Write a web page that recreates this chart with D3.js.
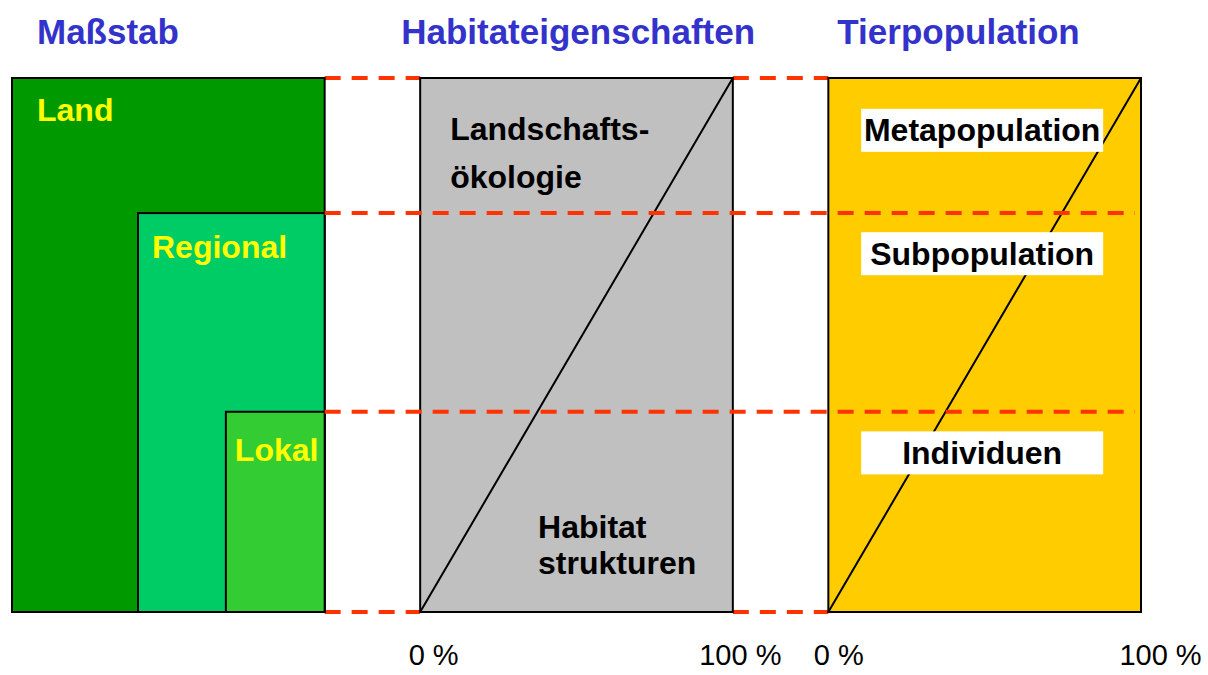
<!DOCTYPE html>
<html>
<head>
<meta charset="utf-8">
<script src="https://cdn.jsdelivr.net/npm/d3@7"></script>
<style>
  body { margin: 0; background: #fff; }
  svg { display: block; font-family: "Liberation Sans", Arial, sans-serif; }
</style>
</head>
<body>
<svg></svg>
<script>
// data
var columns = ['Maßstab', 'Habitateigenschaften', 'Tierpopulation'];
var scaleLevels = ['Land', 'Regional', 'Lokal'];
var levelHeight = [100, 74.7, 37.5];      // share of full height
var levelStart = [0, 40.3, 68.4];         // where each box starts inside the panel, %
var levelColors = ['#009900', '#00CC66', '#33CC33'];
var habitatLabels = [['Landschafts-', 'ökologie'], ['Habitat', 'strukturen']];
var populationLabels = ['Metapopulation', 'Subpopulation', 'Individuen'];
var percentTicks = [0, 100];

var width = 1208;
var height = 675;

var svg = d3.select('svg')
    .attr('width', width)
    .attr('height', height);

var Xscale = d3.scaleBand().domain(columns).range([12, 1141]).paddingInner(0.234);
var bw = Xscale.bandwidth();
var Pscale = d3.scaleLinear().domain([0, 100]).range([0, bw]);
var Yscale = d3.scaleLinear().domain([0, 100]).range([612, 78]);

var dashStyle = function (sel) {
    sel.attr('stroke', '#FF3300')
       .attr('stroke-width', 4)
       .attr('stroke-dasharray', '16,11');
};

// titles
var titleDx = [25, -19, 9];
svg.selectAll('text.title')
    .data(columns)
    .enter()
    .append('text')
    .classed('title', true)
    .attr('x', (d, i) => Xscale(d) + titleDx[i])
    .attr('y', 44)
    .attr('fill', '#3333CC')
    .style('font-size', '35px')
    .style('font-weight', 'bold')
    .text(d => d);

// dashed lines on top and bottom, between panels
var gaps = [[columns[0], columns[1]], [columns[1], columns[2]]];
[0, 100].forEach(function (lv) {
    svg.selectAll(null)
        .data(gaps)
        .enter()
        .append('line')
        .attr('x1', d => Xscale(d[0]) + bw)
        .attr('x2', d => Xscale(d[1]))
        .attr('y1', Yscale(lv))
        .attr('y2', Yscale(lv))
        .call(dashStyle);
});

// Maßstab: nested boxes
var left = Xscale(columns[0]);
svg.selectAll('rect.level')
    .data(scaleLevels)
    .enter()
    .append('rect')
    .classed('level', true)
    .attr('x', (d, i) => left + Pscale(levelStart[i]))
    .attr('y', (d, i) => Yscale(levelHeight[i]))
    .attr('width', (d, i) => Pscale(100 - levelStart[i]))
    .attr('height', (d, i) => Yscale(0) - Yscale(levelHeight[i]))
    .attr('fill', (d, i) => levelColors[i])
    .attr('stroke', '#000')
    .attr('stroke-width', 2);

var labelDx = [25, 14, 9];
var labelDy = [43, 45, 49];
svg.selectAll('text.level')
    .data(scaleLevels)
    .enter()
    .append('text')
    .classed('level', true)
    .attr('x', (d, i) => left + Pscale(levelStart[i]) + labelDx[i])
    .attr('y', (d, i) => Yscale(levelHeight[i]) + labelDy[i])
    .attr('fill', '#FFFF00')
    .style('font-size', '32px')
    .style('font-weight', 'bold')
    .text(d => d);

// gray and yellow panels
var panelFill = {'Habitateigenschaften': '#C0C0C0', 'Tierpopulation': '#FFCC00'};
svg.selectAll('rect.panel')
    .data(columns.slice(1))
    .enter()
    .append('rect')
    .classed('panel', true)
    .attr('x', d => Xscale(d))
    .attr('y', Yscale(100))
    .attr('width', bw)
    .attr('height', Yscale(0) - Yscale(100))
    .attr('fill', d => panelFill[d])
    .attr('stroke', '#000')
    .attr('stroke-width', 2);

// diagonal 0% -> 100%
svg.selectAll('line.diag')
    .data(columns.slice(1))
    .enter()
    .append('line')
    .classed('diag', true)
    .attr('x1', d => Xscale(d) + Pscale(0))
    .attr('y1', Yscale(0))
    .attr('x2', d => Xscale(d) + Pscale(100))
    .attr('y2', Yscale(100))
    .attr('stroke', '#000')
    .attr('stroke-width', 2);

// dashed lines through the middle levels
svg.selectAll('line.mid')
    .data(levelHeight.slice(1))
    .enter()
    .append('line')
    .classed('mid', true)
    .attr('x1', left + bw)
    .attr('x2', Xscale(columns[2]) + bw - 6)
    .attr('y1', d => Yscale(d))
    .attr('y2', d => Yscale(d))
    .call(dashStyle);

// habitat texts
var gx = Xscale(columns[1]);
var habitatPos = [{px: 9.6, lv: 88.4, lh: 48}, {px: 37.7, lv: 13.9, lh: 36}];
habitatLabels.forEach(function (lines, i) {
    svg.append('text')
        .attr('x', gx + Pscale(habitatPos[i].px))
        .attr('y', Yscale(habitatPos[i].lv))
        .attr('fill', '#000')
        .style('font-size', '32px')
        .style('font-weight', 'bold')
        .selectAll('tspan')
        .data(lines)
        .enter()
        .append('tspan')
        .attr('x', gx + Pscale(habitatPos[i].px))
        .attr('dy', (d, j) => j ? habitatPos[i].lh : 0)
        .text(d => d);
});

// population labels on white boxes
var yx = Xscale(columns[2]);
var popLevel = [90.2, 67.1, 29.8];
var pop = svg.selectAll('g.pop')
    .data(populationLabels)
    .enter()
    .append('g')
    .classed('pop', true)
    .attr('transform', (d, i) => `translate(${yx + Pscale(49.2)},${Yscale(popLevel[i])})`);
pop.append('rect')
    .attr('x', -Pscale(38.7))
    .attr('y', -21.5)
    .attr('width', Pscale(77.4))
    .attr('height', 43)
    .attr('fill', '#fff');
pop.append('text')
    .attr('text-anchor', 'middle')
    .attr('y', 11)
    .attr('fill', '#000')
    .style('font-size', '32px')
    .style('font-weight', 'bold')
    .text(d => d);

// percentage axes
var tickDx = {'Habitateigenschaften': [13, 7], 'Tierpopulation': [10, 19]};
columns.slice(1).forEach(function (c) {
    var ax = d3.axisBottom(Pscale)
        .tickValues(percentTicks)
        .tickFormat(d => d + ' %')
        .tickSize(0);
    var g = svg.append('g')
        .attr('transform', `translate(${Xscale(c)},641)`)
        .call(ax);
    g.select('.domain').remove();
    g.selectAll('text')
        .attr('fill', '#000')
        .attr('dx', d => d === 100 ? tickDx[c][1] : tickDx[c][0])
        .style('font-size', '29px')
        .style('font-family', '"Liberation Sans", Arial, sans-serif');
});
</script>
</body>
</html>
